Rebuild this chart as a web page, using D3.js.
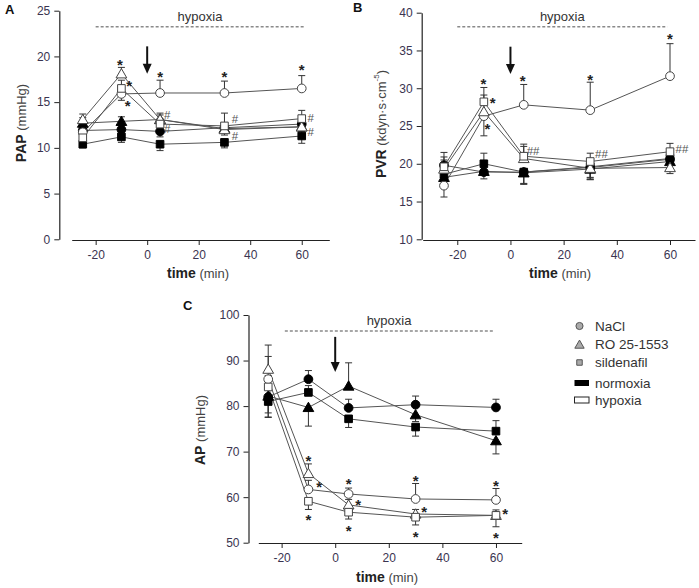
<!DOCTYPE html>
<html><head><meta charset="utf-8">
<script src="https://cdn.jsdelivr.net/npm/d3@7"></script>
<style>
html,body{margin:0;padding:0;background:#fff;}
svg{display:block;font-family:"Liberation Sans",Arial,sans-serif;}
</style></head>
<body>
<svg id="chart" width="699" height="588"></svg>
<script>
// ---------- DATA ----------
const time = [-25, -10, 5, 30, 60];
const xTicks = [-20, 0, 20, 40, 60];

// Panel A: PAP (mmHg)
const papNaClNorm = [11.9, 12.0, 11.8, 12.2, 12.6];
const papRoNorm   = [12.7, 12.9, 13.1, 12.1, 12.3];
const papSilNorm  = [10.4, 11.2, 10.4, 10.6, 11.3];
const papNaClHyp  = [11.7, 15.9, 16.0, 16.0, 16.5];
const papRoHyp    = [13.1, 18.1, 13.1, 12.0, 12.3];
const papSilHyp   = [11.1, 16.5, 12.6, 12.4, 13.2];
const papErrNaClNorm = [0.5, 0.5, -0.6, 0.5, 0.5];
const papErrRoNorm   = [0.6, 0.5, 0.5, 0.5, -0.8];
const papErrSilNorm  = [-0.4, -0.6, -0.7, -0.6, -0.8];
const papErrNaClHyp  = [-0.5, -0.7, 1.4, 1.3, 1.4];
const papErrRoHyp    = [0.6, 0.7, 0.7, -0.6, -0.5];
const papErrSilHyp   = [-0.6, 0.9, 0.6, 1.4, 0.9];
const papStars = [[-10.6, 19.4], [-7.0, 17.1], [-7.6, 14.9], [5, 18.1], [30, 18.1], [60, 18.8]];
const papHash  = [[6.5, 13.6, "#"], [6.5, 12.1, "#"], [32.8, 13.2, "#"], [32.8, 11.3, "#"], [62.2, 13.3, "#"], [62.2, 11.7, "#"]];

// Panel B: PVR (kdyn·s·cm-5)
const pvrNaClNorm = [19.8, 18.9, 18.9, 19.5, 20.6];
const pvrRoNorm   = [18.2, 19.0, 18.8, 19.3, 20.3];
const pvrSilNorm  = [18.6, 20.0, 18.9, 19.6, 20.7];
const pvrNaClHyp  = [17.1, 26.3, 27.8, 27.1, 31.6];
const pvrRoHyp    = [19.3, 26.9, 20.7, 19.4, 19.5];
const pvrSilHyp   = [19.6, 28.2, 21.0, 20.3, 21.6];
const pvrErrNaClNorm = [1.7, 1.5, -1.6, -1.3, 0.6];
const pvrErrRoNorm   = [-0.6, -1.0, -1.4, -1.2, 0.6];
const pvrErrSilNorm  = [1.5, 1.4, -1.6, -1.7, 0.6];
const pvrErrNaClHyp  = [-1.5, -2.6, 2.7, 3.7, 4.3];
const pvrErrRoHyp    = [1.2, 2.2, 1.6, -1.5, -0.8];
const pvrErrSilHyp   = [1.3, 1.9, 1.6, 1.1, 1.1];
const pvrStars = [[-10.2, 30.9], [-6.7, 28.5], [-8.7, 25.0], [4.6, 31.4], [30, 31.5], [60, 36.9]];
const pvrHash  = [[6.1, 21.7, "##"], [31.8, 21.3, "##"], [62.1, 21.9, "##"]];

// Panel C: AP (mmHg)
const apNaClNorm = [82.0, 85.9, 79.6, 80.3, 79.7];
const apRoNorm   = [82.2, 79.7, 84.4, 78.1, 72.4];
const apSilNorm  = [81.0, 83.0, 77.2, 75.4, 74.5];
const apNaClHyp  = [85.9, 61.7, 60.7, 59.6, 59.4];
const apRoHyp    = [88.1, 65.2, 58.3, 56.3, 56.0];
const apSilHyp   = [84.2, 59.1, 56.7, 55.6, 56.0];
const apErrNaClNorm = [-3.5, 1.9, 1.9, 1.9, 1.8];
const apErrRoNorm   = [-4.6, -4.1, 5.1, -1.5, -2.9];
const apErrSilNorm  = [-3.5, 1.5, -1.9, -2.0, 2.3];
const apErrNaClHyp  = [5.0, 2.0, 1.3, 3.4, 2.5];
const apErrRoHyp    = [5.3, 2.1, 1.2, 1.0, 1.2];
const apErrSilHyp   = [2.5, -1.8, -1.5, -1.7, -2.5];
const apStars = [[-10, 68.7], [-6.0, 62.9], [-10, 55.7], [5, 63.5], [8.6, 59.0], [5, 53.3],
                 [30, 64.3], [33.2, 57.5], [30, 52.0], [60, 63.2], [63.4, 57.0], [60, 51.8]];

const legendLabels = ["NaCl", "RO 25-1553", "sildenafil", "normoxia", "hypoxia"];

// ---------- DRAWING ----------
const svg = d3.select("#chart");
const TICK_COL = "#3a3450";

const symTypes = {circle: d3.symbolCircle, triangle: d3.symbolTriangle, square: d3.symbolSquare};
const symSizes = {circle: 60, triangle: 50, square: 58};
const fmt = d => String(d);

function panel(cfg) {
  const g = svg.append("g");
  const x = d3.scaleLinear().domain(cfg.xDomain).range(cfg.xRange);
  const y = d3.scaleLinear().domain(cfg.yDomain).range(cfg.yRange);

  // y axis
  const ya = g.append("g").attr("transform", `translate(${cfg.yAxisX},0)`)
    .call(d3.axisLeft(y).tickValues(cfg.yTicks).tickFormat(fmt).tickSize(5).tickSizeOuter(0).tickPadding(4));
  // x axis
  const xa = g.append("g").attr("transform", `translate(0,${cfg.xAxisY})`)
    .call(d3.axisBottom(x).tickValues(xTicks).tickFormat(fmt).tickSize(5).tickSizeOuter(0).tickPadding(5));
  [ya, xa].forEach(a => {
    a.selectAll("path.domain").attr("stroke", "#222").attr("stroke-width", 1.2);
    a.selectAll(".tick line").attr("stroke", "#222");
    a.selectAll(".tick text").attr("fill", TICK_COL).attr("font-size", 12)
      .attr("font-family", "'Liberation Sans',Arial,sans-serif");
  });

  // hypoxia dashed line + text
  g.append("line").attr("x1", x(cfg.dash[0])).attr("x2", x(cfg.dash[1]))
    .attr("y1", y(cfg.dashY)).attr("y2", y(cfg.dashY))
    .attr("stroke", "#8a8a8a").attr("stroke-width", 1.5).attr("stroke-dasharray", "3,2");
  g.append("text").attr("x", x((cfg.dash[0] + cfg.dash[1]) / 2)).attr("y", y(cfg.dashY) - 6)
    .attr("text-anchor", "middle").attr("font-size", 13).attr("fill", "#333").text("hypoxia");

  // arrow at time 0
  const ax = x(0), ay1 = y(cfg.arrow[0]), ay2 = y(cfg.arrow[1]);
  g.append("line").attr("x1", ax).attr("x2", ax).attr("y1", ay1).attr("y2", ay2 - 8)
    .attr("stroke", "#111").attr("stroke-width", 2);
  g.append("path").attr("d", `M${ax - 4.5},${ay2 - 10} L${ax + 4.5},${ay2 - 10} L${ax},${ay2} Z`)
    .attr("fill", "#111");

  // series
  const line = d3.line().x((d, i) => x(time[i])).y(d => y(d));
  cfg.series.forEach(s => {
    g.append("path").datum(s.v).attr("d", line).attr("fill", "none")
      .attr("stroke", "#555").attr("stroke-width", 1);
  });
  cfg.series.forEach(s => {
    s.v.forEach((v, i) => {
      const e = s.e[i];
      const px = x(time[i]), p0 = y(v), p1 = y(v + e);
      g.append("line").attr("x1", px).attr("x2", px).attr("y1", p0).attr("y2", p1)
        .attr("stroke", "#333").attr("stroke-width", 1);
      g.append("line").attr("x1", px - 3.5).attr("x2", px + 3.5).attr("y1", p1).attr("y2", p1)
        .attr("stroke", "#333").attr("stroke-width", 1);
    });
  });
  cfg.series.forEach(s => {
    const sym = d3.symbol().type(symTypes[s.shape]).size(symSizes[s.shape]);
    s.v.forEach((v, i) => {
      g.append("path").attr("d", sym())
        .attr("transform", `translate(${x(time[i])},${y(v) + (s.shape === "triangle" ? 1 : 0)})`)
        .attr("fill", s.filled ? "#000" : "#fff")
        .attr("stroke", s.filled ? "#000" : "#444").attr("stroke-width", 1);
    });
  });

  // stars and hashes
  cfg.stars.forEach(d => {
    g.append("text").attr("x", x(d[0])).attr("y", y(d[1]) + 8)
      .attr("text-anchor", "middle").attr("font-size", 15).attr("font-weight", "bold")
      .attr("fill", "#222").text("*");
  });
  (cfg.hash || []).forEach(d => {
    g.append("text").attr("x", x(d[0])).attr("y", y(d[1]) + 4)
      .attr("font-size", 11.5).attr("fill", "#555").text(d[2]);
  });

  // panel letter
  g.append("text").attr("x", cfg.letter[1]).attr("y", cfg.letter[2])
    .attr("font-size", 13).attr("font-weight", "bold").attr("fill", "#111").text(cfg.letter[0]);

  // y label
  const yl = g.append("text").attr("transform", `translate(${cfg.yLabelPos[0]},${cfg.yLabelPos[1]}) rotate(-90)`)
    .attr("text-anchor", "middle").attr("dominant-baseline", "central").attr("fill", "#222");
  yl.append("tspan").attr("font-weight", "bold").attr("font-size", 14).text(cfg.yLabel[0]);
  yl.append("tspan").attr("font-size", 13).attr("fill", "#444").text(" " + cfg.yLabel[1]);
  if (cfg.yLabel[2]) {
    yl.append("tspan").attr("font-size", 8).attr("fill", "#444").attr("dy", -5).text(cfg.yLabel[2]);
    yl.append("tspan").attr("font-size", 13).attr("fill", "#444").attr("dy", 5).text(cfg.yLabel[3]);
  }
  // x label
  const xl = g.append("text").attr("x", cfg.xLabelPos[0]).attr("y", cfg.xLabelPos[1])
    .attr("text-anchor", "middle").attr("dominant-baseline", "central").attr("fill", "#222");
  xl.append("tspan").attr("font-weight", "bold").attr("font-size", 14).text("time");
  xl.append("tspan").attr("font-size", 13).attr("fill", "#444").text(" (min)");
}

function mkSeries(nc, ro, sil, ncH, roH, silH, eNc, eRo, eSil, eNcH, eRoH, eSilH) {
  return [
    {v: nc, e: eNc, shape: "circle", filled: true},
    {v: ro, e: eRo, shape: "triangle", filled: true},
    {v: sil, e: eSil, shape: "square", filled: true},
    {v: ncH, e: eNcH, shape: "circle", filled: false},
    {v: roH, e: eRoH, shape: "triangle", filled: false},
    {v: silH, e: eSilH, shape: "square", filled: false}
  ];
}

panel({
  xDomain: [-29.3, 70.7], xRange: [71.7, 329.3], xAxisY: 240,
  yDomain: [0, 25], yRange: [239.3, 10.7], yAxisX: 59.3, yTicks: [0, 5, 10, 15, 20, 25],
  dash: [-20, 61], dashY: 23.25, arrow: [21.1, 18.1],
  series: mkSeries(papNaClNorm, papRoNorm, papSilNorm, papNaClHyp, papRoHyp, papSilHyp,
    papErrNaClNorm, papErrRoNorm, papErrSilNorm, papErrNaClHyp, papErrRoHyp, papErrSilHyp),
  stars: papStars, hash: papHash,
  letter: ["A", 5, 14], yLabel: ["PAP", "(mmHg)"], yLabelPos: [21, 123], xLabelPos: [198, 273]
});
panel({
  xDomain: [-33.0, 69.4], xRange: [422.7, 695], xAxisY: 240,
  yDomain: [10, 40], yRange: [239.3, 12.7], yAxisX: 421.7, yTicks: [10, 15, 20, 25, 30, 35, 40],
  dash: [-20, 59], dashY: 38.15, arrow: [35.5, 31.9],
  series: mkSeries(pvrNaClNorm, pvrRoNorm, pvrSilNorm, pvrNaClHyp, pvrRoHyp, pvrSilHyp,
    pvrErrNaClNorm, pvrErrRoNorm, pvrErrSilNorm, pvrErrNaClHyp, pvrErrRoHyp, pvrErrSilHyp),
  stars: pvrStars, hash: pvrHash,
  letter: ["B", 353, 12], yLabel: ["PVR", "(kdyn·s·cm", "-5", ")"], yLabelPos: [381, 124], xLabelPos: [560, 273]
});
panel({
  xDomain: [-28.7, 69.6], xRange: [258.3, 521.7], xAxisY: 543,
  yDomain: [50, 100], yRange: [542.7, 315], yAxisX: 248.5, yTicks: [50, 60, 70, 80, 90, 100],
  dash: [-18.8, 59], dashY: 96.5, arrow: [95.2, 87.5],
  series: mkSeries(apNaClNorm, apRoNorm, apSilNorm, apNaClHyp, apRoHyp, apSilHyp,
    apErrNaClNorm, apErrRoNorm, apErrSilNorm, apErrNaClHyp, apErrRoHyp, apErrSilHyp),
  stars: apStars,
  letter: ["C", 183, 310], yLabel: ["AP", "(mmHg)"], yLabelPos: [200, 430], xLabelPos: [387, 577]
});

// ---------- LEGEND ----------
const lg = svg.append("g");
const legY = [326, 344.5, 362.5, 383, 400];
const legShapes = ["circle", "triangle", "square"];
const legSize = {circle: 40, triangle: 38, square: 30};
legShapes.forEach((sh, i) => {
  lg.append("path").attr("d", d3.symbol().type(symTypes[sh]).size(legSize[sh])())
    .attr("transform", `translate(579.5,${legY[i] + (sh === "triangle" ? 1 : 0)})`)
    .attr("fill", "#aaa").attr("stroke", "#555").attr("stroke-width", 1);
});
lg.append("rect").attr("x", 574.5).attr("y", legY[3] - 3).attr("width", 14.5).attr("height", 6)
  .attr("fill", "#000");
lg.append("rect").attr("x", 574.5).attr("y", legY[4] - 3).attr("width", 14.5).attr("height", 6)
  .attr("fill", "#fff").attr("stroke", "#222").attr("stroke-width", 1);
legendLabels.forEach((t, i) => {
  lg.append("text").attr("x", 595).attr("y", legY[i]).attr("dominant-baseline", "central")
    .attr("font-size", 13.5).attr("fill", "#333").text(t);
});
</script>
</body></html>
